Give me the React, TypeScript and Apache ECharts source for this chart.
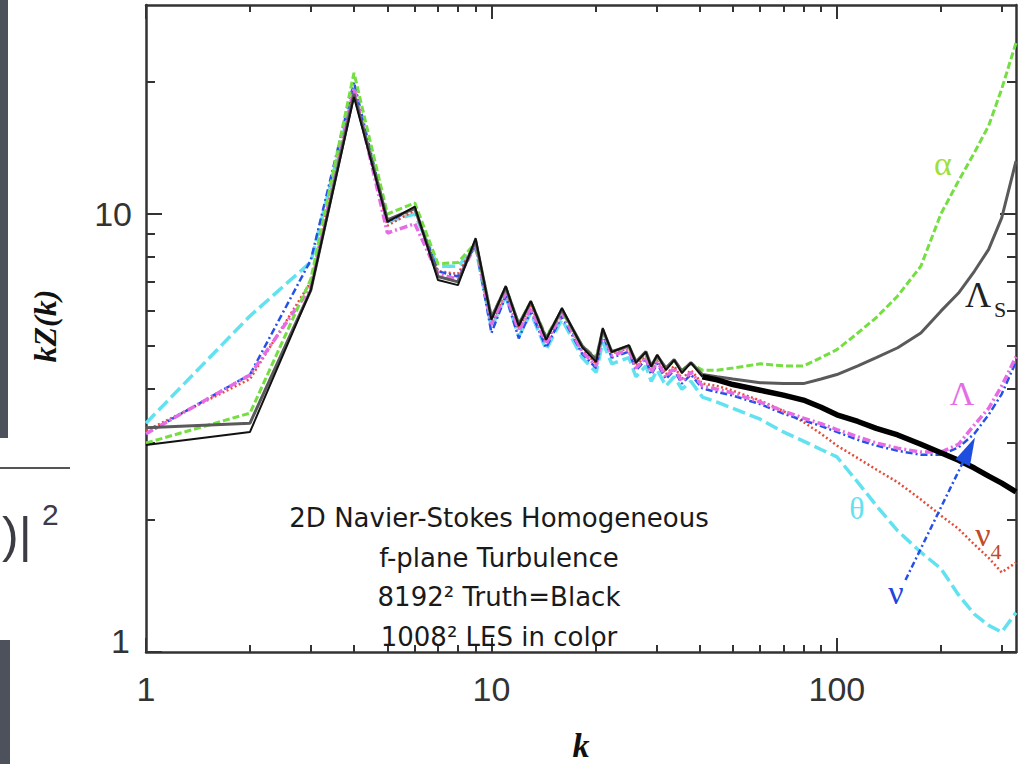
import React, { useEffect, useRef } from "react";
import * as echarts from "echarts";

// wavenumber grid (shell k)
const K = [1, 2, 3, 4, 5, 6, 7, 8, 9, 10, 11, 12, 13, 14.4, 16, 18.3, 20.1, 21, 22.3, 25, 26.2, 28, 29, 30.2, 32, 33.8, 35.6, 37.8, 40.8, 45, 50, 60, 70, 80, 90, 100, 115, 130, 150, 175, 200, 225, 250, 275, 300, 330];

// 8192^2 truth (black)
const truthV = [2.97, 3.18, 6.7, 18.5, 9.6, 10.4, 7.07, 6.88, 8.81, 5.73, 6.85, 5.55, 6.33, 5.16, 6.1, 4.97, 4.59, 5.49, 4.84, 5.02, 4.57, 4.84, 4.48, 4.77, 4.4, 4.64, 4.33, 4.57, 4.25, 4.18, 4.08, 3.96, 3.86, 3.76, 3.62, 3.48, 3.36, 3.24, 3.13, 2.98, 2.85, 2.74, 2.63, 2.52, 2.43, 2.32];
// Lambda_S (gray)
const lambdaSV = [3.25, 3.33, 6.7, 18.8, 9.7, 10.3, 7.2, 7.0, 8.7, 5.8, 6.8, 5.6, 6.3, 5.2, 6.05, 5.0, 4.65, 5.45, 4.85, 5.0, 4.6, 4.85, 4.5, 4.75, 4.45, 4.65, 4.38, 4.58, 4.3, 4.25, 4.2, 4.12, 4.1, 4.1, 4.2, 4.3, 4.5, 4.7, 4.95, 5.35, 6.0, 6.6, 7.4, 8.3, 9.8, 13.2];
// alpha (green)
const alphaV = [3.0, 3.51, 7.1, 21.0, 10.0, 10.6, 7.7, 7.75, 8.6, 5.8, 6.8, 5.6, 6.3, 5.25, 6.0, 5.0, 4.7, 5.4, 4.85, 4.98, 4.6, 4.8, 4.5, 4.72, 4.45, 4.62, 4.4, 4.55, 4.4, 4.4, 4.45, 4.55, 4.5, 4.5, 4.7, 4.9, 5.35, 5.8, 6.5, 7.6, 10.0, 11.9, 13.8, 15.9, 19.3, 24.6];
// Lambda (magenta)
const lambdaV = [3.15, 4.29, 6.8, 19.4, 9.05, 9.5, 7.3, 7.1, 8.5, 5.6, 6.6, 5.4, 6.1, 5.05, 5.95, 4.85, 4.5, 5.35, 4.75, 4.9, 4.45, 4.7, 4.35, 4.6, 4.25, 4.45, 4.15, 4.35, 4.05, 3.98, 3.9, 3.72, 3.55, 3.42, 3.32, 3.22, 3.1, 3.0, 2.92, 2.86, 2.86, 2.98, 3.3, 3.6, 4.05, 4.72];
// nu_4 (red)
const nu4V = [3.2, 4.2, 7.0, 19.2, 9.4, 10.2, 7.4, 7.3, 8.6, 5.6, 6.7, 5.45, 6.2, 5.1, 6.0, 4.9, 4.55, 5.4, 4.8, 4.95, 4.5, 4.75, 4.4, 4.65, 4.3, 4.5, 4.2, 4.4, 4.1, 4.05, 3.95, 3.75, 3.55, 3.35, 3.15, 2.96, 2.77, 2.61, 2.44, 2.23, 2.05, 1.91, 1.76, 1.64, 1.52, 1.6];
// theta (cyan)
const thetaV = [3.33, 5.85, 7.77, 19.0, 9.6, 10.0, 7.6, 7.6, 8.4, 5.5, 6.5, 5.25, 5.95, 4.9, 5.75, 4.7, 4.35, 5.1, 4.55, 4.7, 4.25, 4.5, 4.15, 4.4, 4.05, 4.25, 3.98, 4.15, 3.82, 3.72, 3.6, 3.4, 3.18, 3.03, 2.9, 2.79, 2.44, 2.16, 1.89, 1.69, 1.55, 1.35, 1.22, 1.15, 1.11, 1.23];
// nu (blue)
const nuV = [3.15, 4.3, 7.85, 20.0, 9.6, 10.3, 7.4, 7.2, 8.5, 5.35, 6.5, 5.2, 6.0, 4.95, 5.85, 4.8, 4.45, 5.3, 4.7, 4.85, 4.4, 4.65, 4.3, 4.55, 4.2, 4.4, 4.1, 4.3, 4.0, 3.92, 3.85, 3.68, 3.5, 3.38, 3.28, 3.18, 3.05, 2.96, 2.88, 2.82, 2.82, 2.93, 3.15, 3.48, 3.88, 4.6];

// arrow annotation for nu (k, value)
const nuArrowK = [158, 241];
const nuArrowV = [1.46, 2.89];

const xMajor = [1, 10, 100];
const xMinor = [2, 3, 4, 5, 6, 7, 8, 9, 20, 30, 40, 50, 60, 70, 80, 90, 200, 300];
const yMajor = [1, 10];
const yMinor = [2, 3, 4, 5, 6, 7, 8, 9, 20];
const X_MIN = 1, X_MAX = 330, Y_MIN = 1, Y_MAX = 30;

const annotationLines = ["2D Navier-Stokes Homogeneous", "f-plane Turbulence", "8192² Truth=Black", "1008² LES in color"];

const lg = Math.log10;
const pts = (ks: number[], vs: number[]) => ks.map((k, i) => [lg(k), lg(vs[i])]);

const AX = "#333";

export default function App() {
  const ref = useRef<HTMLDivElement>(null);
  useEffect(() => {
    if (!ref.current) return;
    const chart = echarts.init(ref.current, null, { renderer: "svg" });

    const truthAll = pts(K, truthV);
    const splitIdx = K.indexOf(40.8);
    const truthLow = truthAll.slice(0, splitIdx + 1);
    const truthHigh = truthAll.slice(splitIdx);

    const base = { type: "value", splitLine: { show: false }, axisLine: { show: false, onZero: false }, axisTick: { show: false }, axisLabel: { show: false } } as any;
    const xb = { ...base, min: lg(X_MIN), max: lg(X_MAX) };
    const yb = { ...base, min: lg(Y_MIN), max: lg(Y_MAX) };
    const line = { show: true, onZero: false, lineStyle: { color: AX, width: 2.5 } };
    const tick = (vals: number[], len: number) => ({ show: true, inside: true, length: len, customValues: vals.map(lg), lineStyle: { color: AX, width: 2 } });

    const xAxis = [
      { ...xb, position: "bottom", axisLine: line, axisTick: tick(xMajor, 14),
        axisLabel: { show: true, customValues: xMajor.map(lg), formatter: (v: number) => String(Math.round(Math.pow(10, v))), margin: 20, fontSize: 34, color: AX, fontFamily: "Liberation Sans" } },
      { ...xb, position: "bottom", axisTick: tick(xMinor, 7) },
      { ...xb, position: "top", axisLine: line, axisTick: tick(xMajor, 14) },
      { ...xb, position: "top", axisTick: tick(xMinor, 7) },
    ];
    const yAxis = [
      { ...yb, position: "left", axisLine: line, axisTick: tick(yMajor, 16),
        axisLabel: { show: true, customValues: yMajor.map(lg), margin: 14, fontSize: 34, color: AX, fontFamily: "Liberation Sans",
          formatter: (v: number) => { const n = Math.round(Math.pow(10, v)); return n === 1 ? "{low|1}" : String(n); },
          rich: { low: { fontSize: 34, color: AX, fontFamily: "Liberation Sans", padding: [0, 2, 22, 0] } } } },
      { ...yb, position: "left", axisTick: tick(yMinor, 9) },
      { ...yb, position: "right", axisLine: line, axisTick: tick(yMajor, 16) },
      { ...yb, position: "right", axisTick: tick(yMinor, 9) },
    ];

    const ser = (name: string, data: number[][], color: string, width: number, type: any, z = 2) => ({
      name, type: "line", data, symbol: "none", showSymbol: false, z,
      lineStyle: { color, width, type, cap: "butt" }, itemStyle: { color },
    });

    const series: any[] = [
      ser("θ", pts(K, thetaV), "#62e2f0", 3.5, [13, 5]),
      ser("ν4", pts(K, nu4V), "#e84a36", 2.5, [2, 2.5]),
      ser("ν", pts(K, nuV), "#2452e8", 2.5, [7, 3, 2, 3]),
      ser("Λ", pts(K, lambdaV), "#e66ce6", 3.5, [8, 3, 2, 3]),
      ser("α", pts(K, alphaV), "#74de42", 3, [7, 3]),
      ser("ΛS", pts(K, lambdaSV), "#5a5a5a", 3, "solid"),
      ser("Truth", truthLow, "#111", 2, "solid", 3),
      ser("Truth high k", truthHigh, "#000", 5.5, "solid", 3),
      {
        name: "ν arrow", type: "line", z: 4,
        data: [
          { value: [lg(nuArrowK[0]), lg(nuArrowV[0])], symbol: "none" },
          { value: [lg(nuArrowK[1]), lg(nuArrowV[1])], symbol: "triangle", symbolSize: [16, 28], symbolRotate: -26 },
        ],
        showSymbol: true, lineStyle: { color: "#2452e8", width: 2.5, type: [6, 3, 2, 3] }, itemStyle: { color: "#1e4ee0" },
      },
    ];

    const serif = "Liberation Serif";
    const txt = (x: number, y: number, text: string, fill: string, size: number, family = serif, extra: any = {}) => ({
      type: "text", x, y, z: 100, ...extra,
      style: { text, fill, font: `${extra.weight || "normal"} ${size}px '${family}'`, textAlign: extra.align || "center", textVerticalAlign: "middle" },
    });

    const graphic: any[] = [
      { type: "rect", shape: { x: 0, y: 0, width: 8, height: 438 }, style: { fill: "#4c515c" }, z: 0 },
      { type: "rect", shape: { x: 0, y: 640, width: 10, height: 124 }, style: { fill: "#4c515c" }, z: 0 },
      { type: "line", shape: { x1: 0, y1: 468, x2: 70, y2: 468 }, style: { stroke: "#555", lineWidth: 2 } },
      txt(2, 535, ")|", "#3c3c44", 50, "Liberation Sans", { align: "left" }),
      txt(42, 514, "2", "#3c3c44", 30, "Liberation Sans", { align: "left" }),
      ...annotationLines.map((l, i) => txt(499, 518 + i * 39.5, l, "#1a1a1a", 26, "DejaVu Sans")),
      txt(943, 163, "α", "#9ee03a", 34),
      txt(978, 295, "Λ", "#222", 36),
      txt(1000, 309, "S", "#222", 22),
      txt(962, 393, "Λ", "#e66ce6", 34),
      txt(857, 508, "θ", "#62e2f0", 32),
      txt(983, 534, "ν", "#c04a2a", 34),
      txt(996, 551, "4", "#c04a2a", 22),
      txt(896, 592, "ν", "#2244dd", 34),
      {
        type: "text", x: 45, y: 326, rotation: Math.PI / 2, z: 100,
        style: { text: "kZ(k)", fill: "#111", font: `italic bold 32px '${serif}'`, textAlign: "center", textVerticalAlign: "middle" },
      },
      txt(581, 745, "k", "#111", 34, serif, { weight: "italic bold" }),
    ];

    chart.setOption({
      animation: false,
      backgroundColor: "#fff",
      grid: { left: 146, right: 2, top: 5, bottom: 112, containLabel: false, outerBoundsMode: "none" },
      xAxis, yAxis, series, graphic,
    } as any);
    return () => chart.dispose();
  }, []);
  return <div ref={ref} style={{ position: "fixed", left: 0, top: 0, width: 1018, height: 764 }} />;
}
